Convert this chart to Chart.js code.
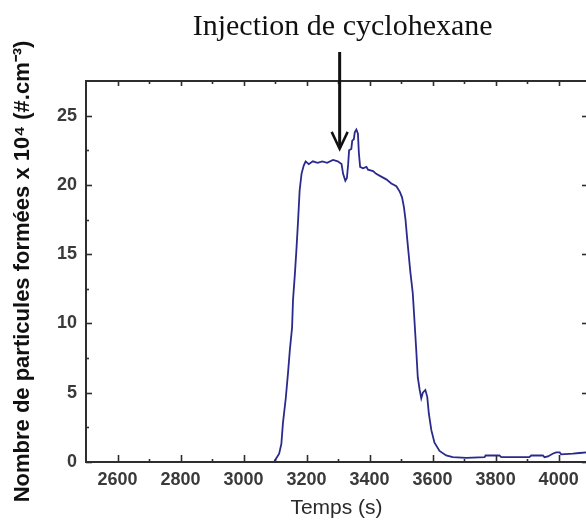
<!DOCTYPE html>
<html>
<head>
<meta charset="utf-8">
<script src="https://cdn.jsdelivr.net/npm/chart.js@4"></script>
<style>
  html, body { margin: 0; padding: 0; background: #fff; overflow: hidden; }
  #wrap { width: 590px; height: 525px; }
</style>
</head>
<body>
<div id="wrap"><canvas id="particleChart"></canvas></div>
<script>
// time (s) and particle count (x 10^4 #/cm3)
const times = [3098, 3113, 3120, 3125, 3134, 3141, 3147, 3154, 3157, 3163, 3168, 3173, 3178, 3184, 3191,
  3197, 3207, 3220, 3235, 3250, 3265, 3284, 3299, 3311, 3316, 3323, 3328, 3332, 3335, 3342, 3345,
  3350, 3353, 3358, 3363, 3366, 3370, 3379, 3390, 3395, 3411, 3421, 3437, 3453, 3469, 3485, 3496,
  3503, 3509, 3514, 3519, 3524, 3529, 3537, 3543, 3548, 3553, 3559, 3564, 3569, 3577, 3583, 3588,
  3596, 3606, 3622, 3643, 3664, 3707, 3765, 3768, 3812, 3818, 3907, 3913, 3950, 3955, 3966, 3981,
  3992, 4003, 4008, 4045, 4066, 4090];
const counts = [0.05, 0.6, 1.3, 2.8, 4.6, 6.4, 8.1, 9.7, 11.7, 13.6, 15.4, 17.4, 19.6, 20.8, 21.4,
  21.7, 21.5, 21.7, 21.6, 21.7, 21.6, 21.8, 21.7, 21.5, 20.8, 20.3, 20.5, 21.5, 22.5, 22.6, 23.2,
  23.3, 23.8, 24.0, 23.7, 22.3, 21.3, 21.2, 21.3, 21.1, 21.0, 20.8, 20.6, 20.4, 20.1, 19.9, 19.5,
  19.1, 18.4, 17.5, 16.2, 15.0, 13.8, 12.2, 10.0, 8.1, 6.1, 5.2, 4.6, 5.0, 5.2, 4.7, 3.5,
  2.3, 1.4, 0.8, 0.47, 0.35, 0.3, 0.35, 0.47, 0.47, 0.35, 0.35, 0.47, 0.47, 0.35, 0.4, 0.6,
  0.7, 0.7, 0.55, 0.6, 0.65, 0.7];

const xTicks = [2600, 2800, 3000, 3200, 3400, 3600, 3800, 4000];
const xMinorTicks = [2700, 2900, 3100, 3300, 3500, 3700, 3900];
const yTicks = [0, 5, 10, 15, 20, 25];
const yMinorTicks = [2.5, 7.5, 12.5, 17.5, 22.5];

const injectionLabel = 'Injection de cyclohexane';
const injectionTime = 3305;
const arrowTip = 22.6;

const points = times.map((t, i) => ({ x: t, y: counts[i] }));

// box around the plot with inward tick marks on every side
const frameTicks = {
  id: 'frameTicks',
  afterDraw(chart) {
    const { ctx, chartArea: a, scales: { x, y } } = chart;
    const seg = (x1, y1, x2, y2) => { ctx.beginPath(); ctx.moveTo(x1, y1); ctx.lineTo(x2, y2); ctx.stroke(); };
    ctx.save();
    ctx.strokeStyle = '#2e2e2e';
    ctx.lineWidth = 2;
    ctx.strokeRect(a.left, a.top, a.right - a.left, a.bottom - a.top);
    ctx.lineWidth = 1.6;
    xTicks.forEach(v => {
      const px = Math.round(x.getPixelForValue(v)) + 0.5;
      seg(px, a.bottom, px, a.bottom - 7);
      seg(px, a.top, px, a.top + 5);
    });
    xMinorTicks.forEach(v => {
      const px = Math.round(x.getPixelForValue(v)) + 0.5;
      seg(px, a.bottom, px, a.bottom - 3);
      seg(px, a.top, px, a.top + 3);
    });
    yTicks.forEach(v => {
      const py = Math.round(y.getPixelForValue(v)) + 0.5;
      seg(a.left, py, a.left + 6, py);
      seg(a.right, py, a.right - 5, py);
    });
    yMinorTicks.forEach(v => {
      const py = Math.round(y.getPixelForValue(v)) + 0.5;
      seg(a.left, py, a.left + 3, py);
    });
    ctx.restore();
  }
};

// arrow and label marking the cyclohexane injection
const injectionArrow = {
  id: 'injectionArrow',
  afterDraw(chart) {
    const { ctx, chartArea: a, scales: { x, y } } = chart;
    const px = x.getPixelForValue(injectionTime);
    const tipY = y.getPixelForValue(arrowTip);
    const startY = a.top - 29;
    ctx.save();
    ctx.strokeStyle = '#111';
    ctx.lineWidth = 3;
    ctx.beginPath();
    ctx.moveTo(px, startY);
    ctx.lineTo(px, tipY - 1);
    ctx.stroke();
    ctx.lineWidth = 2.5;
    ctx.beginPath();
    ctx.moveTo(px - 8, tipY - 17);
    ctx.lineTo(px, tipY);
    ctx.lineTo(px + 8, tipY - 17);
    ctx.stroke();
    ctx.fillStyle = '#111';
    ctx.font = '30px "Liberation Serif", "DejaVu Serif", serif';
    ctx.textAlign = 'center';
    ctx.textBaseline = 'alphabetic';
    ctx.fillText(injectionLabel, px + 3, a.top - 46);
    ctx.restore();
  }
};

const ctx = document.getElementById('particleChart').getContext('2d');
new Chart(ctx, {
  type: 'line',
  data: {
    datasets: [{
      data: points,
      borderColor: '#2a2a8c',
      borderWidth: 1.8,
      pointRadius: 0,
      tension: 0,
      fill: false,
    }],
  },
  options: {
    responsive: true,
    maintainAspectRatio: false,
    animation: false,
    events: [],
    layout: { padding: { top: 81, right: 3, left: 0, bottom: 0 } },
    plugins: { legend: { display: false }, tooltip: { enabled: false } },
    scales: {
      x: {
        type: 'linear',
        min: 2500,
        max: 4090,
        border: { display: false },
        grid: { display: false, drawTicks: false },
        afterBuildTicks: s => { s.ticks = xTicks.map(v => ({ value: v })); },
        afterFit: s => { s.height = 63; },
        ticks: {
          padding: 7,
          color: '#3a3a3a',
          callback: v => String(v),
          font: { family: '"Liberation Sans", Arial, sans-serif', size: 18, weight: 'bold' },
        },
        title: {
          display: true,
          text: 'Temps (s)',
          color: '#2a2a2a',
          padding: { top: 0, bottom: 4 },
          font: { family: '"Liberation Sans", Arial, sans-serif', size: 21 },
        },
      },
      y: {
        min: 0,
        max: 27.5,
        border: { display: false },
        grid: { display: false, drawTicks: false },
        afterBuildTicks: s => { s.ticks = yTicks.map(v => ({ value: v })); },
        afterFit: s => { s.width = 86; },
        ticks: {
          padding: 9,
          color: '#3a3a3a',
          callback: v => String(v),
          font: { family: '"Liberation Sans", Arial, sans-serif', size: 18, weight: 'bold' },
        },
        title: {
          display: true,
          text: 'Nombre de particules formées x 10⁴ (#.cm⁻³)',
          color: '#111',
          padding: { top: 10, bottom: 0 },
          font: { family: '"Liberation Sans", Arial, sans-serif', size: 22, weight: 'bold' },
        },
      },
    },
  },
  plugins: [frameTicks, injectionArrow],
});
</script>
</body>
</html>
